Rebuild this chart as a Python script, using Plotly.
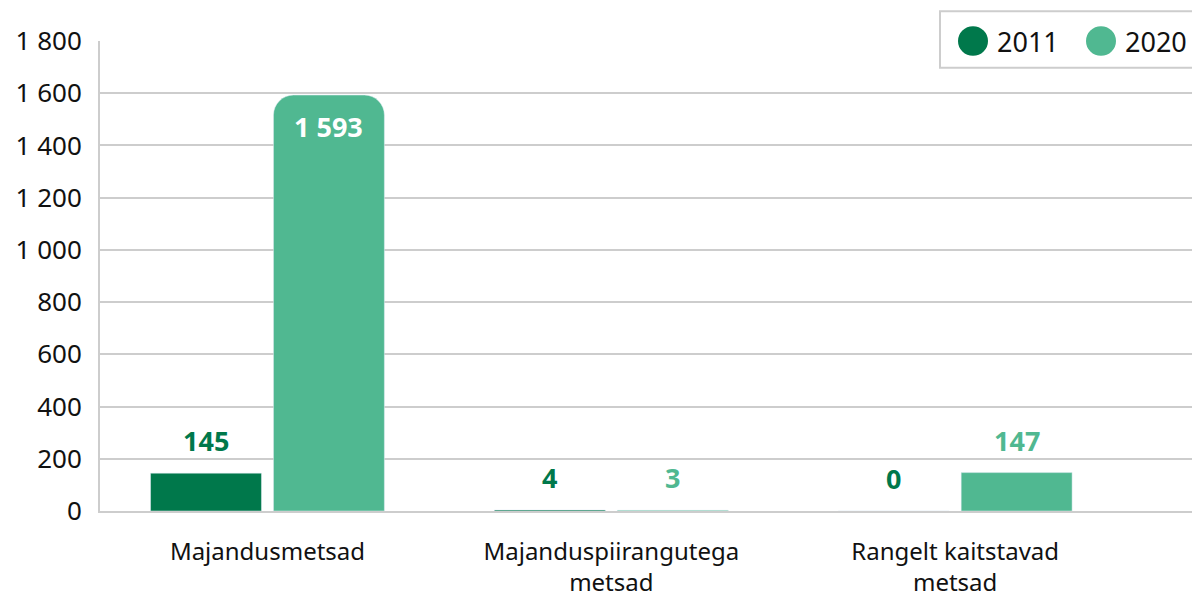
import plotly.graph_objects as go

categories = ["Majandusmetsad", "Majanduspiirangutega<br>metsad", "Rangelt kaitstavad<br>metsad"]
values_2011 = [145, 4, 0]
values_2020 = [1593, 3, 147]
series_names = ["2011", "2020"]
y_ticks = [0, 200, 400, 600, 800, 1000, 1200, 1400, 1600, 1800]

DARK = "#00784B"
LIGHT = "#50B891"
GRID = "#CDCDCD"
FONT = "Noto Sans"
rounded = [True, False, False]   # which 2020 bars get rounded tops

W, H = 1192, 590
ML, MR, MT, MB = 92, 0, 33, 83
X_RANGE = [-0.487, 2.712]
BARGAP, GROUPGAP = 0.285, 0.0976

def fmt(v):
    return f"{v:,}".replace(",", " ")

fig = go.Figure()
fig.add_trace(go.Bar(x=categories, y=values_2011, name=series_names[0], offsetgroup="a",
                     marker=dict(color=DARK), showlegend=False))
y_round = [v if r else None for v, r in zip(values_2020, rounded)]
y_flat = [None if r else v for v, r in zip(values_2020, rounded)]
fig.add_trace(go.Bar(x=categories, y=y_round, name=series_names[1], offsetgroup="b",
                     marker=dict(color=LIGHT, cornerradius=20), showlegend=False))
fig.add_trace(go.Bar(x=categories, y=y_flat, name=series_names[1], offsetgroup="b",
                     marker=dict(color=LIGHT), showlegend=False))

# data labels, positioned from the data via the axes
plot_w = W - ML - MR
px_per_cat = plot_w / (X_RANGE[1] - X_RANGE[0])
slot = px_per_cat * (1 - BARGAP) / 2
annotations = []
for si, (vals, col) in enumerate([(values_2011, DARK), (values_2020, LIGHT)]):
    xs = (si - 0.5) * slot
    for ci, (cat, v) in enumerate(zip(categories, vals)):
        inside = si == 1 and rounded[ci]
        annotations.append(dict(
            x=cat, y=v, xref="x", yref="y", text=fmt(v), showarrow=False,
            xshift=xs, yanchor="top" if inside else "bottom",
            yshift=-11 if inside else 12,
            font=dict(size=27, family=FONT, weight="bold", color="white" if inside else col),
        ))

# legend drawn as box + circles + labels
plot_h = H - MT - MB
def px_x(p):
    return (p - 8 - ML) / plot_w
def px_y(p):
    return 1 - (p - 8 - MT) / plot_h

shapes = [dict(type="rect", xref="paper", yref="paper", x0=px_x(940), x1=px_x(1215),
               y0=px_y(68), y1=px_y(11), line=dict(color=GRID, width=2),
               fillcolor="white", layer="above")]
for name, col, cx in [(series_names[0], DARK, 973), (series_names[1], LIGHT, 1101)]:
    shapes.append(dict(type="circle", xref="paper", yref="paper",
                       x0=px_x(cx - 15), x1=px_x(cx + 15), y0=px_y(56), y1=px_y(26),
                       line=dict(width=0), fillcolor=col, layer="above"))
    annotations.append(dict(xref="paper", yref="paper", x=px_x(cx + 22), y=px_y(41),
                            text=name, showarrow=False, xanchor="left", yanchor="middle",
                            font=dict(size=27, family=FONT, color="#111111")))

fig.update_layout(
    width=W, height=H,
    margin=dict(l=ML, r=MR, t=MT, b=MB),
    paper_bgcolor="white", plot_bgcolor="white",
    barmode="group", bargap=BARGAP, bargroupgap=GROUPGAP,
    separators=", ",
    font=dict(family=FONT, size=24, color="#111111"),
    shapes=shapes, annotations=annotations,
    showlegend=False,
)
fig.update_xaxes(range=X_RANGE, showgrid=False, showline=True, linecolor=GRID,
                 linewidth=2, ticks="", tickfont=dict(size=24), ticklabelstandoff=18)
fig.update_yaxes(range=[0, 1800], tickvals=y_ticks, separatethousands=True,
                 showgrid=True, gridcolor=GRID, gridwidth=2, showline=True,
                 linecolor=GRID, linewidth=2, ticks="", zeroline=False,
                 tickfont=dict(size=26), ticklabelstandoff=11)

fig.write_html("out.html")
